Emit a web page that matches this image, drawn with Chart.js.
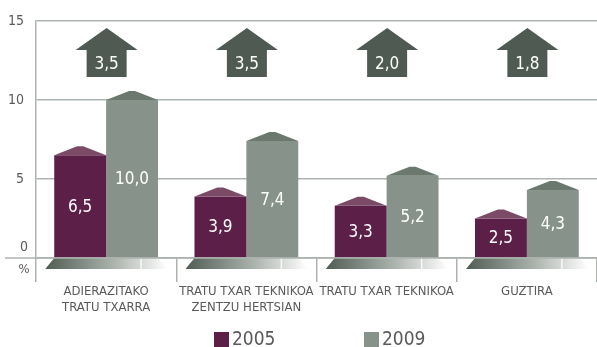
<!DOCTYPE html>
<html>
<head>
<meta charset="utf-8">
<script src="https://cdn.jsdelivr.net/npm/chart.js@4.4.1/dist/chart.umd.min.js"></script>
<style>
  html, body { margin: 0; padding: 0; background: #fff; }
  canvas { display: block; }
</style>
</head>
<body>
<canvas id="chart" width="597" height="347"></canvas>
<script>
// values per category, 2005 vs 2009, plus the growth shown in the arrows
const categories = [['ADIERAZITAKO', 'TRATU TXARRA'], ['TRATU TXAR TEKNIKOA', 'ZENTZU HERTSIAN'], 'TRATU TXAR TEKNIKOA', 'GUZTIRA'];
const years = ['2005', '2009'];
const values2005 = [6.5, 3.9, 3.3, 2.5];
const values2009 = [10.0, 7.4, 5.2, 4.3];
const growth = [3.5, 3.5, 2.0, 1.8];
const yTicks = [0, 5, 10, 15];

const PURPLE = '#5c1f48', PURPLE_ROOF = '#7a4a67';
const GREEN = '#87938a', GREEN_ROOF = '#6a786e';
const ARROW = '#4f5b52';
const GRID = '#adb3af';
const TEXT = '#5a5a5a';
const FONT = '"DejaVu Sans Condensed", "DejaVu Sans", sans-serif';

const fmt = v => v.toFixed(1).replace('.', ',');

const decor = {
  id: 'decor',
  beforeDatasetsDraw(chart) {
    const { ctx, scales: { y } } = chart;
    const m0 = chart.getDatasetMeta(0), m1 = chart.getDatasetMeta(1);
    const base = y.getPixelForValue(0);
    ctx.save();
    // floor shading under each pair of bars
    categories.forEach((c, i) => {
      const l = m0.data[i].x - m0.data[i].width / 2;
      const r = m1.data[i].x + m1.data[i].width / 2;
      const g = ctx.createLinearGradient(l - 10, 0, r + 10, 0);
      g.addColorStop(0, ARROW);
      g.addColorStop(0.55, '#a9b1ab');
      g.addColorStop(1, '#ffffff');
      ctx.fillStyle = g;
      ctx.beginPath();
      ctx.moveTo(l, base);
      ctx.lineTo(r, base);
      ctx.lineTo(r + 10, base + 11);
      ctx.lineTo(l - 9, base + 11);
      ctx.closePath();
      ctx.fill();
      ctx.fillStyle = 'rgba(255,255,255,0.8)';
      ctx.fillRect(l + (r - l) * 0.83, base, 1.5, 11);
    });
    ctx.restore();
  },
  afterDatasetsDraw(chart) {
    const { ctx, chartArea: a, scales: { x, y } } = chart;
    const base = y.getPixelForValue(0);
    ctx.save();
    // roofs on top of bars
    [[0, PURPLE_ROOF], [1, GREEN_ROOF]].forEach(([di, col]) => {
      chart.getDatasetMeta(di).data.forEach(bar => {
        const l = bar.x - bar.width / 2, r = bar.x + bar.width / 2;
        ctx.fillStyle = col;
        ctx.beginPath();
        ctx.moveTo(l, bar.y);
        ctx.lineTo(bar.x - 3, bar.y - 9);
        ctx.lineTo(bar.x + 3, bar.y - 9);
        ctx.lineTo(r, bar.y);
        ctx.closePath();
        ctx.fill();
      });
    });
    // value labels in the middle of each bar
    ctx.fillStyle = '#ffffff';
    ctx.font = '17px ' + FONT;
    ctx.textAlign = 'center';
    ctx.textBaseline = 'middle';
    [0, 1].forEach(di => {
      const vals = chart.data.datasets[di].data;
      chart.getDatasetMeta(di).data.forEach((bar, i) => {
        ctx.fillText(fmt(vals[i]), bar.x, (bar.y + bar.base) / 2 + 1);
      });
    });
    // growth arrows above each category
    growth.forEach((g, i) => {
      const cx = x.getPixelForValue(i) + 0.5;
      const top = y.getPixelForValue(14.55);
      const mid = top + 22, bot = top + 49;
      ctx.fillStyle = ARROW;
      ctx.beginPath();
      ctx.moveTo(cx, top);
      ctx.lineTo(cx + 31, mid);
      ctx.lineTo(cx + 20, mid);
      ctx.lineTo(cx + 20, bot);
      ctx.lineTo(cx - 20, bot);
      ctx.lineTo(cx - 20, mid);
      ctx.lineTo(cx - 31, mid);
      ctx.closePath();
      ctx.fill();
      ctx.fillStyle = '#ffffff';
      ctx.font = '17px ' + FONT;
      ctx.fillText(fmt(g), cx, mid + 14);
    });
    // baseline running out past the y axis, "0" and "%" labels
    ctx.strokeStyle = GRID;
    ctx.lineWidth = 1.5;
    ctx.beginPath();
    ctx.moveTo(5, base);
    ctx.lineTo(a.right, base);
    ctx.stroke();
    ctx.fillStyle = TEXT;
    ctx.font = '14px ' + FONT;
    ctx.fillText('0', 24, base - 11);
    ctx.font = '13px ' + FONT;
    ctx.fillText('%', 24, base + 12);
    // legend
    ctx.font = '19px ' + FONT;
    ctx.textAlign = 'left';
    const lx = [214, 364];
    [PURPLE, GREEN].forEach((col, i) => {
      ctx.fillStyle = col;
      ctx.fillRect(lx[i], 332, 15, 15);
      ctx.fillStyle = TEXT;
      ctx.fillText(years[i], lx[i] + 18, 340);
    });
    ctx.restore();
  }
};

new Chart(document.getElementById('chart'), {
  type: 'bar',
  data: {
    labels: categories,
    datasets: [
      { label: years[0], data: values2005, backgroundColor: PURPLE },
      { label: years[1], data: values2009, backgroundColor: GREEN }
    ]
  },
  options: {
    responsive: false,
    animation: false,
    events: [],
    layout: { padding: { top: 21, right: 0, bottom: 0, left: 0 } },
    categoryPercentage: 0.74,
    barPercentage: 1.0,
    plugins: { legend: { display: false }, tooltip: { enabled: false } },
    scales: {
      x: {
        afterFit: s => { s.height = 89; },
        border: { display: false },
        grid: { drawOnChartArea: false, drawTicks: true, tickLength: 24, color: GRID, lineWidth: 1.5 },
        ticks: { color: TEXT, font: { family: FONT, size: 13, lineHeight: 1.25 }, padding: 1, maxRotation: 0, autoSkip: false }
      },
      y: {
        min: 0,
        max: 15,
        afterFit: s => { s.width = 36; },
        afterBuildTicks: s => { s.ticks = yTicks.map(v => ({ value: v })); },
        border: { display: true, color: GRID, width: 1.5 },
        grid: { drawTicks: false, color: GRID, lineWidth: 1.5 },
        ticks: {
          color: TEXT,
          font: { family: FONT, size: 14 },
          padding: 12,
          callback: v => (v === 0 ? '' : v)
        }
      }
    }
  },
  plugins: [decor]
});
</script>
</body>
</html>
